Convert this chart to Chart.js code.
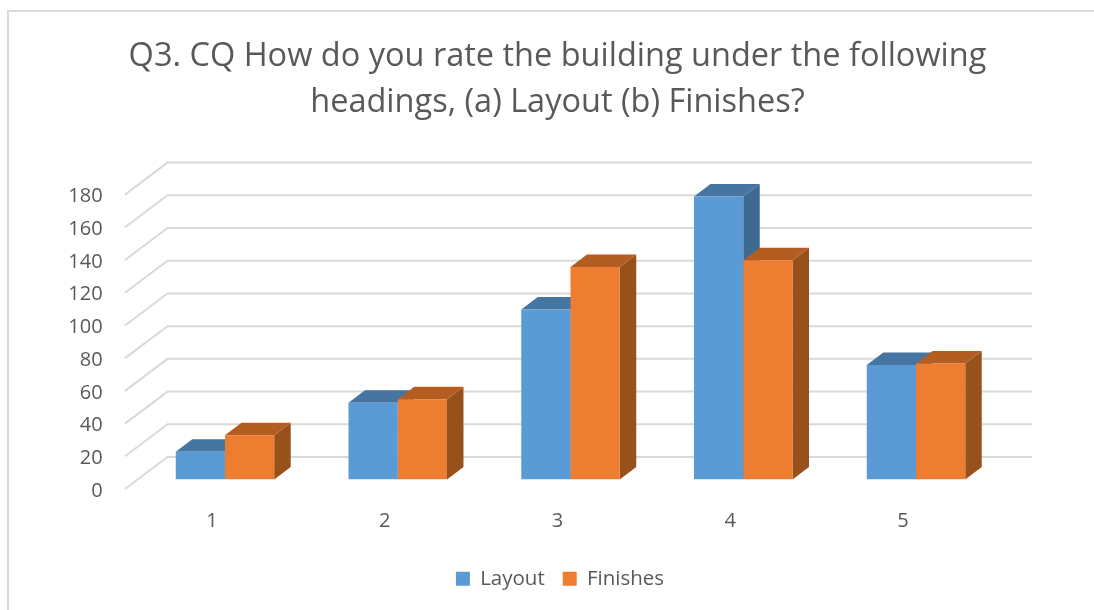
<!DOCTYPE html>
<html lang="en">
<head>
    <meta charset="UTF-8">
    <title>Q3 Layout and Finishes</title>
    <style>
        html, body { margin: 0; padding: 0; background: #fff; overflow: hidden; }
        #frame { position: absolute; left: 7px; top: 10px; width: 1200px; height: 700px; border: 2px solid #d9d9d9; box-sizing: border-box; }
        #wrap { position: absolute; left: 0; top: 0; width: 1094px; height: 610px; }
    </style>
</head>
<body>
    <div id="frame"></div>
    <div id="wrap"><canvas id="chart" width="1094" height="610"></canvas></div>

    <script src="https://cdn.jsdelivr.net/npm/chart.js@4.4.9/dist/chart.umd.js"></script>
    <script>
        const categories = ['1', '2', '3', '4', '5'];
        const layoutValues = [17, 47, 104, 173, 70];
        const finishesValues = [27, 49, 130, 134, 71];
        const yTicks = [0, 20, 40, 60, 80, 100, 120, 140, 160, 180];
        const titleLines = ['Q3. CQ How do you rate the building under the following', 'headings, (a) Layout (b) Finishes?'];

        const textColor = '#595959';
        const gridColor = '#d9d9d9';
        const fontName = '"Open Sans", sans-serif';

        // fake 3D: gridlines on the walls, tops and sides of the bars
        const threeD = {
            id: 'threeD',
            afterLayout(chart) {
                // title and legend are centred on the whole frame, not on the plot
                chart.titleBlock.left = 21;
                chart.titleBlock.right = 1094;
                chart.legend.left = 26;
                chart.legend.right = 1094;
            },
            beforeDatasetsDraw(chart) {
                const ctx = chart.ctx;
                const y = chart.scales.y;
                ctx.save();
                ctx.strokeStyle = gridColor;
                ctx.lineWidth = 2;
                yTicks.forEach(v => {
                    const py = y.getPixelForValue(v);
                    ctx.beginPath();
                    ctx.moveTo(125, py + 9.5);
                    ctx.lineTo(167.5, py - 22.5);
                    ctx.lineTo(1032, py - 22.5);
                    ctx.stroke();
                });
                const dx = 16.5, dy = -12.5;
                const sideColors = ['#3e6a92', '#99511c'];
                const topColors = ['#4675a1', '#b45d20'];
                chart.data.datasets.forEach((ds, i) => {
                    chart.getDatasetMeta(i).data.forEach(bar => {
                        const left = bar.x - bar.width / 2;
                        const right = bar.x + bar.width / 2;
                        ctx.fillStyle = sideColors[i];
                        ctx.beginPath();
                        ctx.moveTo(right, bar.y);
                        ctx.lineTo(right + dx, bar.y + dy);
                        ctx.lineTo(right + dx, bar.base + dy);
                        ctx.lineTo(right, bar.base);
                        ctx.closePath();
                        ctx.fill();
                        ctx.fillStyle = topColors[i];
                        ctx.beginPath();
                        ctx.moveTo(left, bar.y);
                        ctx.lineTo(left + dx, bar.y + dy);
                        ctx.lineTo(right + dx, bar.y + dy);
                        ctx.lineTo(right, bar.y);
                        ctx.closePath();
                        ctx.fill();
                    });
                });
                ctx.restore();
            }
        };

        new Chart(document.getElementById('chart'), {
            type: 'bar',
            data: {
                labels: categories,
                datasets: [
                    { label: 'Layout', data: layoutValues, backgroundColor: '#5b9bd5' },
                    { label: 'Finishes', data: finishesValues, backgroundColor: '#ed7d31' }
                ]
            },
            options: {
                responsive: false,
                animation: false,
                layout: { padding: { left: 10, right: 91.6, top: 34, bottom: 11 } },
                datasets: { bar: { categoryPercentage: 0.57, barPercentage: 1 } },
                plugins: {
                    tooltip: { enabled: false },
                    title: {
                        display: true,
                        text: titleLines,
                        color: textColor,
                        font: { family: fontName, size: 32.5, weight: 'normal', lineHeight: 1.42 },
                        padding: { top: 0, bottom: 58.8 }
                    },
                    legend: {
                        position: 'bottom',
                        labels: {
                            color: textColor,
                            boxWidth: 14,
                            boxHeight: 14,
                            padding: 18,
                            font: { family: fontName, size: 20.5 }
                        }
                    }
                },
                scales: {
                    x: {
                        afterFit(scale) { scale.height = 71; },
                        grid: { display: false },
                        border: { display: false },
                        ticks: { color: textColor, font: { family: fontName, size: 20 }, padding: 21.5, labelOffset: -13 }
                    },
                    y: {
                        min: 0,
                        max: 180,
                        afterFit(scale) { scale.width = 128.6; scale.paddingTop = 0; },
                        afterBuildTicks(scale) { scale.ticks = yTicks.map(v => ({ value: v })); },
                        grid: { display: false },
                        border: { display: false },
                        ticks: { color: textColor, font: { family: fontName, size: 20 }, padding: 28, labelOffset: 11.5 }
                    }
                }
            },
            plugins: [threeD]
        });
    </script>
</body>
</html>
